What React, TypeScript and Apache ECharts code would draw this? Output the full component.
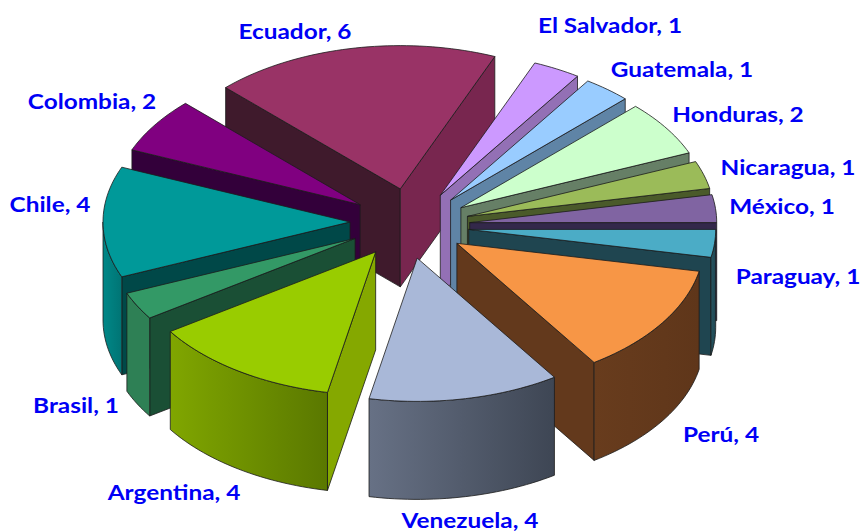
import React, { useEffect, useRef } from "react";
import * as echarts from "echarts";

// Data, clockwise from the Ecuador slice
const categories = ["Ecuador", "El Salvador", "Guatemala", "Honduras", "Nicaragua", "México", "Paraguay", "Perú", "Venezuela", "Argentina", "Brasil", "Chile", "Colombia"];
const values = [6, 1, 1, 2, 1, 1, 1, 4, 4, 4, 1, 4, 2];

// Styles
const topColors = ["#993366", "#CC99FF", "#99CCFF", "#CCFFCC", "#9BBB59", "#8064A2", "#4BACC6", "#F79646", "#A9B8D8", "#99CC00", "#339966", "#009999", "#800080"];
const startWallColors = ["#3F1A2C", "#9370B5", "#5F84A6", "#667F66", "#4A5A2A", "#33284A", "#1F4550", "#63391C", "#3F4755", "#85A800", "#1A4F35", "#004848", "#33003A"];
const endWallColors = ["#78264F", "#9370B5", "#5F84A6", "#667F66", "#4A5A2A", "#33284A", "#1F4550", "#63391C", "#3F4755", "#85A800", "#1A4F35", "#004848", "#33003A"];
const outerFrom = ["#78264F", "#9370B5", "#5F84A6", "#667F66", "#4A5A2A", "#33284A", "#265662", "#683C1D", "#677185", "#80A600", "#2E8055", "#008888", "#550055"];
const outerTo = ["#78264F", "#9370B5", "#5F84A6", "#667F66", "#4A5A2A", "#33284A", "#1F4550", "#5F361A", "#3E4654", "#5A7800", "#2E8055", "#007474", "#550055"];

// Layout
const labelCentres: [number, number][] = [[295, 31], [610, 25], [682, 69], [738, 114], [788, 167], [782, 206], [798, 276], [721, 434], [470, 520], [174, 492], [76, 405], [50, 204], [92, 101]];
const sliceNudges: [number, number][] = [[2, -2], [2, 1], [2.5, 2], [1, 2], [0, 1.5], [0, 1], [-1, 1], [-3, -1], [-4.5, -1], [-1, -2], [-2, -3], [0, -3], [0, -1]];
const CX = 410, CY = 225, RADIUS = 247, TILT = 0.58, DEPTH = 98, EXPLODE = 60, START_DEG = -45;

const total = values.reduce((a, b) => a + b, 0);
const rad = (d: number) => (d * Math.PI) / 180;

function sectorOf(i: number) {
  const before = values.slice(0, i).reduce((a, b) => a + b, 0);
  const a0 = START_DEG + (before / total) * 360;
  const a1 = a0 + (values[i] / total) * 360;
  const mid = (a0 + a1) / 2;
  const ox = CX + EXPLODE * Math.sin(rad(mid)) + sliceNudges[i][0];
  const oy = CY - EXPLODE * TILT * Math.cos(rad(mid)) + sliceNudges[i][1];
  const at = (deg: number): [number, number] => [ox + RADIUS * Math.sin(rad(deg)), oy - RADIUS * TILT * Math.cos(rad(deg))];
  return { a0, a1, mid, ox, oy, at };
}

function arcPoints(at: (d: number) => [number, number], from: number, to: number) {
  const n = Math.max(2, Math.ceil(Math.abs(to - from) / 1.5));
  const pts: [number, number][] = [];
  for (let k = 0; k <= n; k++) pts.push(at(from + ((to - from) * k) / n));
  return pts;
}

const edge = { stroke: "#1c1c1c", lineWidth: 0.8, lineJoin: "round" };

function renderSlice(_: any, api: any) {
  const i = api.value(0);
  const { a0, a1, ox, oy, at } = sectorOf(i);
  const down = (p: [number, number]): [number, number] => [p[0], p[1] + DEPTH];
  const children: any[] = [];
  const wall = (deg: number, fill: string) => {
    const p = at(deg);
    children.push({ type: "polygon", shape: { points: [[ox, oy], p, down(p), [ox, oy + DEPTH]] }, style: { fill, ...edge } });
  };
  // radial walls facing the viewer
  if (Math.cos(rad(a0 - 90)) < 0) wall(a0, startWallColors[i]);
  if (Math.cos(rad(a1 + 90)) < 0) wall(a1, endWallColors[i]);
  // outer rim: the front half only
  const lo = Math.max(a0, 90), hi = Math.min(a1, 270);
  if (hi > lo) {
    const rim = arcPoints(at, lo, hi);
    children.push({
      type: "polygon",
      shape: { points: [...rim, ...rim.slice().reverse().map(down)] },
      style: {
        fill: new echarts.graphic.LinearGradient(0, 0, 1, 0, [
          { offset: 0, color: outerFrom[i] },
          { offset: 1, color: outerTo[i] },
        ]),
        ...edge,
      },
    });
  }
  children.push({
    type: "polygon",
    shape: { points: [[ox, oy], ...arcPoints(at, a0, a1)] },
    style: { fill: topColors[i], ...edge },
  });
  return { type: "group", children };
}

// back-to-front painting order
const paintOrder = categories
  .map((_, i) => i)
  .sort((p, q) => Math.cos(rad(sectorOf(q).mid)) - Math.cos(rad(sectorOf(p).mid)));

export default function App() {
  const ref = useRef<HTMLDivElement>(null);
  useEffect(() => {
    if (!ref.current) return;
    const chart = echarts.init(ref.current, undefined, { renderer: "svg" });
    chart.setOption({
      animation: false,
      backgroundColor: "#ffffff",
      series: [
        {
          type: "custom",
          coordinateSystem: "none",
          silent: true,
          clip: false,
          renderItem: renderSlice,
          data: paintOrder.map((i) => ({ name: categories[i], value: [i, values[i]] })),
        },
      ],
      graphic: categories.map((c, i) => ({
        type: "text",
        x: labelCentres[i][0],
        y: labelCentres[i][1],
        scaleX: 1.16,
        silent: true,
        style: {
          text: `${c}, ${values[i]}`,
          fill: "#0000F5",
          font: 'bold 21px Lato, "Open Sans", sans-serif',
          align: "center",
          verticalAlign: "middle",
        },
      })),
    });
    return () => chart.dispose();
  }, []);
  return <div ref={ref} style={{ position: "fixed", left: 0, top: 0, width: 863, height: 531 }} />;
}
